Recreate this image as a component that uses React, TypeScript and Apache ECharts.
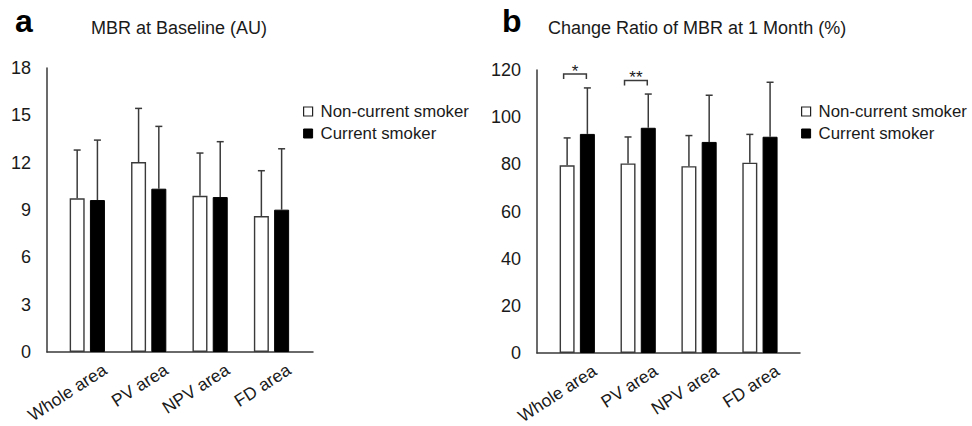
import React, { useEffect, useRef } from "react";
import * as echarts from "echarts";

// ---- data ----
const categories = ["Whole area", "PV area", "NPV area", "FD area"];
const seriesNames = ["Non-current smoker", "Current smoker"];

// Panel a: MBR at baseline (AU)
const baselineNonCurrentMean = [9.74, 12.04, 9.9, 8.62];
const baselineNonCurrentSD = [3.06, 3.4, 2.71, 2.87];
const baselineCurrentMean = [9.63, 10.35, 9.82, 9.02];
const baselineCurrentSD = [3.8, 3.95, 3.51, 3.86];
const baselineTicks = { min: 0, max: 18, interval: 3 };

// Panel b: change ratio of MBR at 1 month (%)
const changeNonCurrentMean = [79.6, 80.4, 79.2, 80.7];
const changeNonCurrentSD = [11.6, 11.2, 13.0, 12.0];
const changeCurrentMean = [92.9, 95.5, 89.5, 91.7];
const changeCurrentSD = [19.5, 14.3, 19.8, 23.1];
const changeTicks = { min: 0, max: 120, interval: 20 };

// significance brackets (panel b)
const sigCategories = [0, 1];
const sigHeights = [118.3, 115.5];
const sigLabels = ["*", "**"];

// ---- styles ----
const FONT = "'Liberation Sans', Arial, Helvetica, sans-serif";
const TEXT = "#1a1a1a";
const LINE = "#3a3a3a";
const BAR_W = 15;
const BAR_GAP = 0.35;
const BAR_OFF = (BAR_W + BAR_W * BAR_GAP) / 2;

function errorData(meansA: number[], sdsA: number[], meansB: number[], sdsB: number[]) {
  const out: number[][] = [];
  meansA.forEach((m, i) => out.push([i, m, sdsA[i], 0]));
  meansB.forEach((m, i) => out.push([i, m, sdsB[i], 1]));
  return out;
}

const errorRender = (params: any, api: any) => {
  const cat = api.value(0);
  const mean = api.value(1);
  const sd = api.value(2);
  const which = api.value(3);
  const off = which === 0 ? -BAR_OFF : BAR_OFF;
  const base = api.coord([cat, mean]);
  const top = api.coord([cat, mean + sd]);
  const x = base[0] + off;
  const st = { stroke: LINE, lineWidth: 1.5 };
  return {
    type: "group",
    children: [
      { type: "line", shape: { x1: x, y1: base[1], x2: x, y2: top[1] }, style: st },
      { type: "line", shape: { x1: x - 3.5, y1: top[1], x2: x + 3.5, y2: top[1] }, style: st },
    ],
  };
};

const bracketRender = (params: any, api: any) => {
  const cat = api.value(0);
  const h = api.value(1);
  const label = sigLabels[params.dataIndex];
  const p = api.coord([cat, h]);
  const x1 = p[0] - BAR_OFF - 3.5;
  const x2 = p[0] + BAR_OFF - 1;
  const y = p[1];
  return {
    type: "group",
    children: [
      {
        type: "polyline",
        shape: { points: [[x1, y + 5], [x1, y], [x2, y], [x2, y + 5]] },
        style: { stroke: LINE, lineWidth: 1.5, fill: "none" },
      },
      {
        type: "text",
        x: (x1 + x2) / 2,
        y: y - 3,
        style: {
          text: label,
          fill: TEXT,
          font: `17px ${FONT}`,
          align: "center",
          verticalAlign: "middle",
        },
      },
    ],
  };
};

function frameAxes(gridIndex: number, ticks: any) {
  return {
    x: {
      type: "value",
      gridIndex,
      min: 0,
      max: 1,
      axisLine: { show: true, lineStyle: { color: LINE, width: 1.5 } },
      axisTick: { show: false },
      axisLabel: { show: false },
      splitLine: { show: false },
    },
    y: {
      type: "value",
      gridIndex,
      min: ticks.min,
      max: ticks.max,
      interval: ticks.interval,
      axisLine: { show: true, lineStyle: { color: LINE, width: 1.5 } },
      axisTick: { show: false },
      splitLine: { show: false },
      axisLabel: { fontSize: 18, color: TEXT, fontFamily: FONT, margin: 16 },
    },
  };
}

function hiddenY(gridIndex: number, ticks: any) {
  return { type: "value", gridIndex, min: ticks.min, max: ticks.max, show: false };
}

function barX(gridIndex: number) {
  return { type: "category", gridIndex, data: categories, show: false };
}

function labelX(gridIndex: number) {
  return {
    type: "category",
    gridIndex,
    data: categories,
    axisLine: { show: false },
    axisTick: { show: false },
    splitLine: { show: false },
    axisLabel: { interval: 0, rotate: 33, margin: 16, fontSize: 17.5, color: TEXT, fontFamily: FONT },
  };
}

const whiteStyle = { color: "#ffffff", borderColor: LINE, borderWidth: 1.4 };
const blackStyle = { color: "#000000", borderColor: "#000000", borderWidth: 1 };

function legend(left: number) {
  return {
    left,
    top: 103,
    padding: 0,
    orient: "vertical",
    itemWidth: 9,
    itemHeight: 9,
    itemGap: 5,
    icon: "rect",
    textStyle: { fontSize: 16.8, color: TEXT, fontFamily: FONT, padding: [0, 0, 0, 3] },
    data: [
      { name: seriesNames[0], itemStyle: { color: "#fff", borderColor: "#222", borderWidth: 1.2 } },
      { name: seriesNames[1], itemStyle: { color: "#000", borderColor: "#000", borderWidth: 1 } },
    ],
    selectedMode: false,
  };
}

export default function App() {
  const ref = useRef<HTMLDivElement>(null);
  useEffect(() => {
    if (!ref.current) return;
    const chart = echarts.init(ref.current, undefined, { renderer: "svg" });
    const fa = frameAxes(0, baselineTicks);
    const fb = frameAxes(3, changeTicks);
    const gridBase = { outerBoundsMode: "none", containLabel: false };
    chart.setOption({
      animation: false,
      backgroundColor: "#ffffff",
      textStyle: { fontFamily: FONT },
      title: [
        { text: "a", left: 15, top: 5, padding: 0, textStyle: { fontSize: 32, fontWeight: "bold", color: "#000", fontFamily: FONT } },
        { text: "MBR at Baseline (AU)", left: 91, top: 19, padding: 0, textStyle: { fontSize: 18, fontWeight: "normal", color: TEXT, fontFamily: FONT } },
        { text: "b", left: 502, top: 5, padding: 0, textStyle: { fontSize: 32, fontWeight: "bold", color: "#000", fontFamily: FONT } },
        { text: "Change Ratio of MBR at 1 Month (%)", left: 548, top: 19, padding: 0, textStyle: { fontSize: 18, fontWeight: "normal", color: TEXT, fontFamily: FONT } },
      ],
      legend: [legend(303), legend(801)],
      grid: [
        { ...gridBase, left: 47, top: 68, width: 266, height: 284 },
        { ...gridBase, left: 56.6, top: 68, width: 245.6, height: 284 },
        { ...gridBase, left: 74.1, top: 68, width: 245.6, height: 284 },
        { ...gridBase, left: 537, top: 70, width: 263, height: 283 },
        { ...gridBase, left: 546.8, top: 70, width: 243.6, height: 283 },
        { ...gridBase, left: 564.3, top: 70, width: 243.6, height: 283 },
      ],
      xAxis: [fa.x, barX(1), labelX(2), fb.x, barX(4), labelX(5)],
      yAxis: [fa.y, hiddenY(1, baselineTicks), hiddenY(2, baselineTicks), fb.y, hiddenY(4, changeTicks), hiddenY(5, changeTicks)],
      series: [
        { type: "bar", name: seriesNames[0], xAxisIndex: 1, yAxisIndex: 1, data: baselineNonCurrentMean, barWidth: BAR_W, barGap: BAR_GAP * 100 + "%", itemStyle: whiteStyle },
        { type: "bar", name: seriesNames[1], xAxisIndex: 1, yAxisIndex: 1, data: baselineCurrentMean, barWidth: BAR_W, barGap: BAR_GAP * 100 + "%", itemStyle: blackStyle },
        { type: "custom", xAxisIndex: 1, yAxisIndex: 1, renderItem: errorRender, data: errorData(baselineNonCurrentMean, baselineNonCurrentSD, baselineCurrentMean, baselineCurrentSD), z: 3 },
        { type: "bar", name: seriesNames[0], xAxisIndex: 4, yAxisIndex: 4, data: changeNonCurrentMean, barWidth: BAR_W, barGap: BAR_GAP * 100 + "%", itemStyle: whiteStyle },
        { type: "bar", name: seriesNames[1], xAxisIndex: 4, yAxisIndex: 4, data: changeCurrentMean, barWidth: BAR_W, barGap: BAR_GAP * 100 + "%", itemStyle: blackStyle },
        { type: "custom", xAxisIndex: 4, yAxisIndex: 4, renderItem: errorRender, data: errorData(changeNonCurrentMean, changeNonCurrentSD, changeCurrentMean, changeCurrentSD), z: 3 },
        { type: "custom", xAxisIndex: 4, yAxisIndex: 4, renderItem: bracketRender, data: sigCategories.map((c, i) => [c, sigHeights[i]]), z: 3 },
      ],
    });
    return () => chart.dispose();
  }, []);
  return (
    <div
      ref={ref}
      style={{ position: "fixed", left: 0, top: 0, width: 972, height: 426, background: "#fff" }}
    />
  );
}
